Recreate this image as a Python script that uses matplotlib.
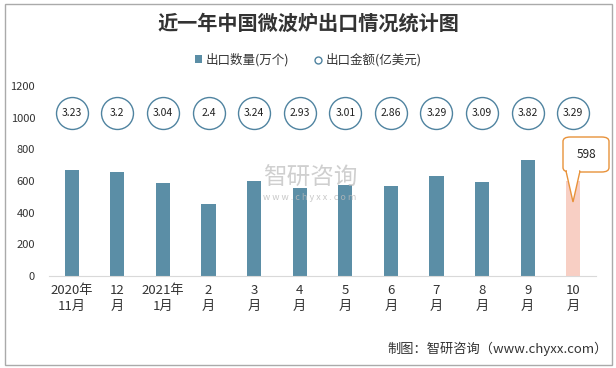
import matplotlib.pyplot as plt
from matplotlib.patches import FancyBboxPatch, Polygon, Rectangle

plt.rcParams['font.family'] = ['Noto Sans CJK SC', 'DejaVu Sans']

# data
months = ['2020年\n11月', '12\n月', '2021年\n1月', '2\n月', '3\n月', '4\n月',
          '5\n月', '6\n月', '7\n月', '8\n月', '9\n月', '10\n月']
qty = [669, 657, 587, 455, 600, 558, 575, 568, 632, 594, 733, 598]   # 出口数量(万个)
amount = [3.23, 3.2, 3.04, 2.4, 3.24, 2.93, 3.01, 2.86, 3.29, 3.09, 3.82, 3.29]  # 出口金额(亿美元)
circle_level = 1030

blue = '#5B8EA6'
pink = '#F8CFC4'
orange = '#E8923A'

fig = plt.figure(figsize=(6.16, 3.68), dpi=100)
ax = fig.add_axes([49 / 616, 1 - 276 / 368, (596 - 49) / 616, (276 - 86) / 368])

x = list(range(len(months)))
colors = [blue] * (len(qty) - 1) + [pink]
bars = ax.bar(x, qty, width=0.31, color=colors, zorder=2)

# circles carrying the amount labels
ax.plot(x, [circle_level] * len(x), 'o', ms=23, mfc='white', mec='#4F83A0',
        mew=1.0, zorder=3, linestyle='none')
for xi, v in zip(x, amount):
    ax.text(xi, circle_level, str(v), ha='center', va='center', fontsize=7.5,
            color='#222222', zorder=4)

ax.set_xlim(-0.5, len(x) - 0.5)
ax.set_ylim(0, 1200)
ax.set_yticks(range(0, 1201, 200))
ax.set_xticks(x)
ax.set_xticklabels(months, fontsize=9.5, color='#333333', linespacing=1.3)
ax.tick_params(axis='y', labelsize=8, labelcolor='#333333', length=0, pad=10)
ax.tick_params(axis='x', length=0, pad=6)
for s in ['top', 'right', 'left']:
    ax.spines[s].set_visible(False)
ax.spines['bottom'].set_color('#D9D9D9')

# callout for the last bar
last = len(x) - 1
box = FancyBboxPatch((563 / 616, 1 - 172 / 368), 46 / 616, 35 / 368,
                     boxstyle='round,pad=0,rounding_size=0.012',
                     transform=fig.transFigure, fc='white', ec=orange, lw=1, zorder=6)
fig.patches.append(box)
tri = Polygon([[566 / 616, 1 - 171 / 368], [580 / 616, 1 - 171 / 368], [573 / 616, 1 - 202 / 368]],
              closed=True, transform=fig.transFigure, fc='white', ec=orange, lw=1, zorder=6)
fig.patches.append(tri)
fig.patches.append(Rectangle((567 / 616, 1 - 172.5 / 368), 12 / 616, 3 / 368,
                             transform=fig.transFigure, fc='white', ec='none', zorder=7))
fig.text(586 / 616, 1 - 154 / 368, str(qty[last]), ha='center', va='center',
         fontsize=8.5, color='#222222', zorder=8)

# title and legend
fig.text(0.5, 1 - 23 / 368, '近一年中国微波炉出口情况统计图', ha='center', va='center',
         fontsize=14.5, fontweight='bold', color='#333333')
h_bar = Rectangle((0, 0), 1, 1, fc=blue)
h_circ = plt.Line2D([], [], marker='o', ms=5, mfc='white', mec='#4F83A0', mew=1, linestyle='none')
fig.legend([h_bar, h_circ], ['出口数量(万个)', '出口金额(亿美元)'], loc='center',
           bbox_to_anchor=(0.5, 1 - 60 / 368), ncol=2, frameon=False,
           fontsize=9, handlelength=0.6, handleheight=0.6, handletextpad=0.3,
           columnspacing=2.0, labelcolor='#333333')

# watermark
fig.text(310 / 616, 1 - 178 / 368, '智研咨询', ha='center', va='center', fontsize=17,
         color='#BBBBBB', alpha=0.7)
fig.text(310 / 616, 1 - 197 / 368, 'w w w . c h y x x . c o m', ha='center', va='center',
         fontsize=6.5, color='#BBBBBB', alpha=0.8)

# footer
fig.text(608 / 616, 1 - 349 / 368, '制图：智研咨询（www.chyxx.com）', ha='right', va='center',
         fontsize=9.5, color='#333333')

# outer border
fig.patches.append(Rectangle((5 / 616, 3 / 368), 607 / 616, 361 / 368, transform=fig.transFigure,
                             fill=False, ec='#AAAAAA', lw=1))

fig.savefig('out.png', dpi=100)
